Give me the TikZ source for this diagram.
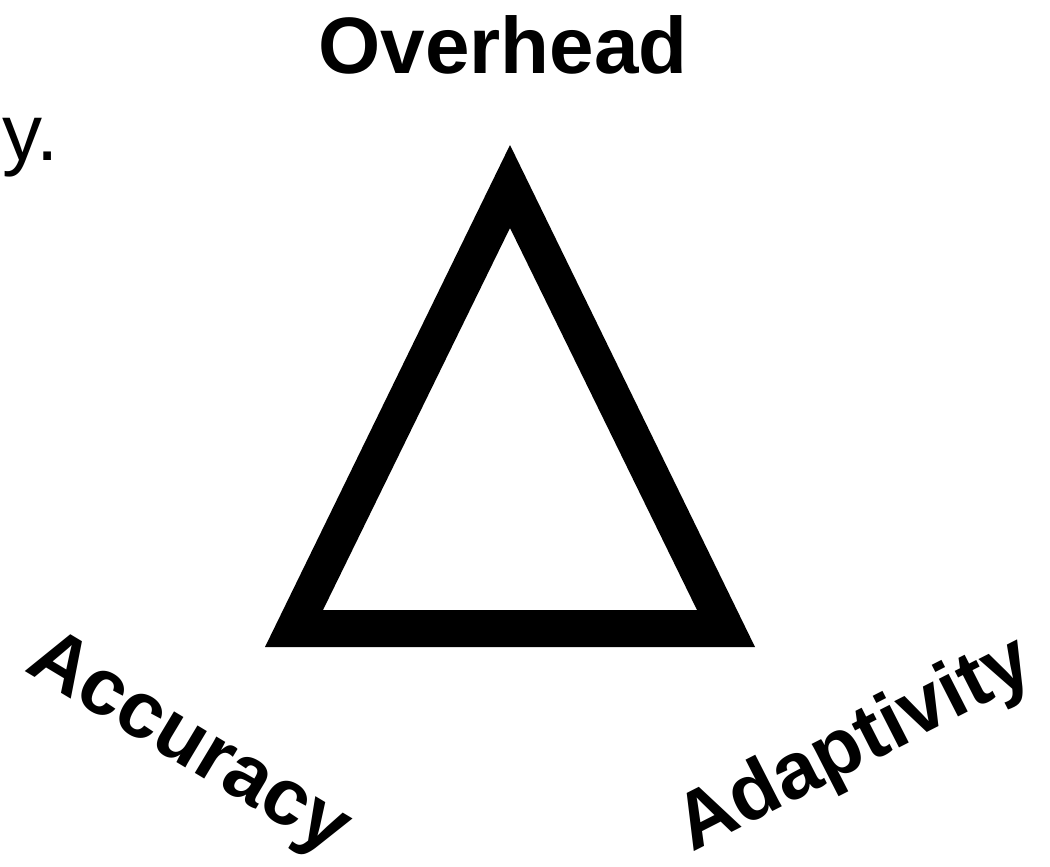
\documentclass[tikz,border=0pt]{standalone}
\usepackage{fontspec}
\setmainfont{Liberation Sans}
\begin{document}
\begin{tikzpicture}[x=1pt,y=-1pt,
  label/.style={inner sep=0pt, font=\fontsize{80}{96}\selectfont\bfseries},
  plain/.style={inner sep=0pt, font=\fontsize{80}{96}\selectfont}]
\useasboundingbox (0,0) rectangle (1050,867);
\fill[white] (0,0) rectangle (1050,867);
% triangle (outer and inner outlines)
\coordinate (oT) at (510,145);
\coordinate (oL) at (265,647);
\coordinate (oR) at (755,647);
\coordinate (iT) at (510,228);
\coordinate (iL) at (323,610);
\coordinate (iR) at (697,610);
\fill[black, even odd rule] (oT) -- (oL) -- (oR) -- cycle (iT) -- (iL) -- (iR) -- cycle;
% labels
\node[label, anchor=base] (over) at (503,74) {Overhead};
\node[plain, anchor=base east] (ly) at (59,160) {ly.};
\node[label, anchor=base west, rotate=-31] (acc) at (23,670) {Accuracy};
\node[label, anchor=base west, rotate=27] (ada) at (692,853) {Adaptivity};
\end{tikzpicture}
\end{document}
